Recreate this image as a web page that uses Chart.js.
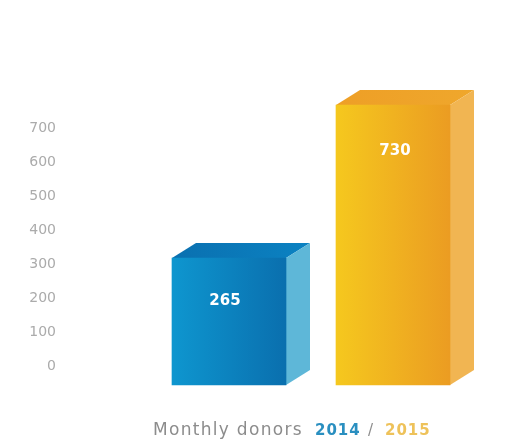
<!DOCTYPE html>
<html>
<head>
<meta charset="utf-8">
<style>
  html, body { margin: 0; padding: 0; background: #fff; }
  #wrap { width: 518px; height: 441px; }
  canvas { filter: blur(0.7px); }
</style>
<script src="https://cdn.jsdelivr.net/npm/chart.js@4"></script>
</head>
<body>
<div id="wrap"><canvas id="chart" width="518" height="441"></canvas></div>
<script>
const years = ['2014', '2015'];
const donors = [265, 730];
const tickValues = [0, 100, 200, 300, 400, 500, 600, 700];
const caption = 'Monthly donors';

const frontColors = [['#0e96cf', '#0a6fae'], ['#f5c81e', '#eb9c22']];
const topColors = [['#0a70b0', '#0b82c2'], ['#ee9f26', '#efa72c']];
const sideColors = ['#5eb7d8', '#f1b552'];
const yearColors = ['#2a8fc0', '#eec25a'];
const labelShift = [-4, 2];
const labelDrop = [43, 46];

const DEPTH_X = 24;
const DEPTH_Y = 15;

function hGradient(ctx, x0, x1, colors) {
  const g = ctx.createLinearGradient(x0, 0, x1, 0);
  g.addColorStop(0, colors[0]);
  g.addColorStop(1, colors[1]);
  return g;
}

function fillPoly(ctx, pts, fill) {
  ctx.fillStyle = fill;
  ctx.beginPath();
  pts.forEach((p, i) => (i ? ctx.lineTo(p[0], p[1]) : ctx.moveTo(p[0], p[1])));
  ctx.closePath();
  ctx.fill();
}

// front gradient, top and side faces, all hung off the bar elements
const boxPlugin = {
  id: 'box',
  beforeDatasetsDraw(chart) {
    const ctx = chart.ctx;
    chart.getDatasetMeta(0).data.forEach((bar, i) => {
      const l = bar.x - bar.width / 2;
      const r = bar.x + bar.width / 2;
      bar.options.backgroundColor = hGradient(ctx, l, r, frontColors[i]);
      fillPoly(ctx, [[l, bar.y], [l + DEPTH_X, bar.y - DEPTH_Y], [r + DEPTH_X, bar.y - DEPTH_Y], [r, bar.y]],
        hGradient(ctx, l, r + DEPTH_X, topColors[i]));
      fillPoly(ctx, [[r, bar.y], [r + DEPTH_X, bar.y - DEPTH_Y], [r + DEPTH_X, bar.base - DEPTH_Y], [r, bar.base]],
        sideColors[i]);
    });
  },
  afterDatasetsDraw(chart) {
    const ctx = chart.ctx;
    ctx.save();
    ctx.fillStyle = '#fff';
    ctx.font = 'bold 15px "DejaVu Sans"';
    ctx.textAlign = 'center';
    ctx.textBaseline = 'middle';
    chart.getDatasetMeta(0).data.forEach((bar, i) => {
      ctx.fillText(String(donors[i]), bar.x + labelShift[i], bar.y + labelDrop[i]);
    });
    ctx.restore();
  },
  afterDraw(chart) {
    const ctx = chart.ctx;
    ctx.save();
    ctx.textBaseline = 'middle';
    ctx.textAlign = 'left';
    ctx.letterSpacing = '1.3px';
    ctx.font = '17px "DejaVu Sans"';
    ctx.fillStyle = '#8c8c8c';
    ctx.fillText(caption, 153, 431);
    ctx.letterSpacing = '1px';
    ctx.font = 'bold 15px "DejaVu Sans"';
    ctx.fillStyle = yearColors[0];
    ctx.fillText(years[0], 315, 431);
    ctx.fillStyle = '#8c8c8c';
    ctx.font = '15px "DejaVu Sans"';
    ctx.fillText('/', 368, 431);
    ctx.font = 'bold 15px "DejaVu Sans"';
    ctx.fillStyle = yearColors[1];
    ctx.fillText(years[1], 385, 431);
    ctx.restore();
  }
};

new Chart(document.getElementById('chart'), {
  type: 'bar',
  data: {
    labels: years,
    datasets: [{
      data: donors,
      base: -121,
      yAxisID: 'bars',
      backgroundColor: ['#0e96cf', '#f5c81e'],
      borderWidth: 0,
      barThickness: 114
    }]
  },
  options: {
    responsive: false,
    animation: false,
    layout: { padding: { top: 60, bottom: 41, left: 0, right: 43 } },
    plugins: { legend: { display: false }, tooltip: { enabled: false } },
    scales: {
      x: { display: false },
      // the printed axis sits lower than the bars, so the bars get their own hidden scale
      y: {
        axis: 'y',
        position: 'left',
        min: -100,
        max: 900,
        grid: { display: false, drawTicks: false },
        border: { display: false },
        // tick padding also leaks into the vertical margins, so clear those here
        afterFit(scale) {
          scale.width = 147;
          scale.paddingTop = 0;
          scale.paddingBottom = 0;
        },
        ticks: {
          stepSize: 100,
          padding: 91,
          color: '#ababab',
          font: { family: 'DejaVu Sans', size: 14 },
          callback: v => (tickValues.includes(v) ? String(v) : '')
        }
      },
      bars: { axis: 'y', position: 'left', display: false, min: -166.6, max: 866.7 }
    }
  },
  plugins: [boxPlugin]
});
</script>
</body>
</html>
